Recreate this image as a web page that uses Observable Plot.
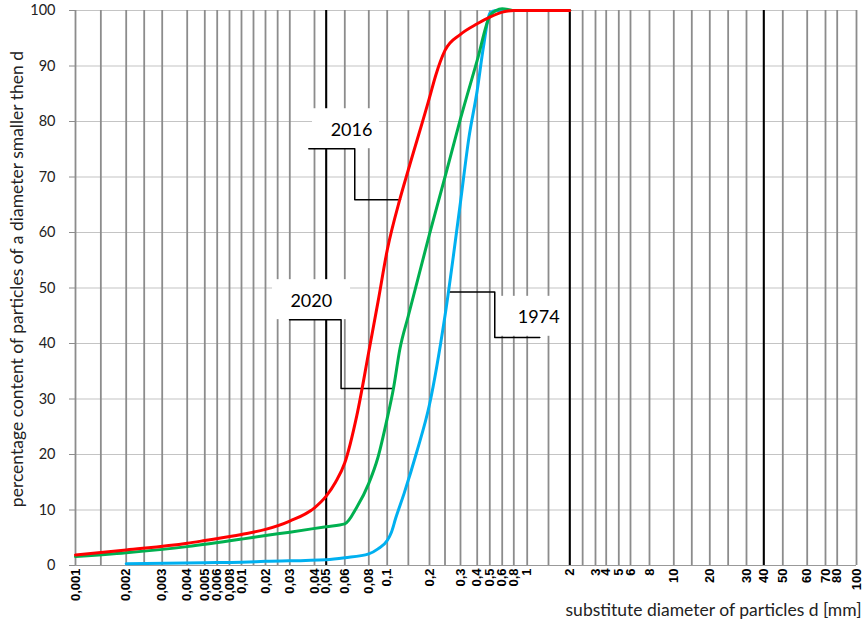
<!DOCTYPE html>
<html><head><meta charset="utf-8">
<script src="https://cdn.jsdelivr.net/npm/d3@7"></script>
<script src="https://cdn.jsdelivr.net/npm/@observablehq/plot@0.6"></script>
<style>body{margin:0;background:#fff}</style>
</head><body><div id="chart"></div>
<script>
// ---- axis ticks / labels ----
const xTicks = [0.001,0.002,0.003,0.004,0.005,0.006,0.008,0.01,0.02,0.03,0.04,0.05,0.06,0.08,0.1,0.2,0.3,0.4,0.5,0.6,0.8,1,2,3,4,5,6,8,10,20,30,40,50,60,70,80,100];
const xTickLabels = ["0,001","0,002","0,003","0,004","0,005","0,006","0,008","0,01","0,02","0,03","0,04","0,05","0,06","0,08","0,1","0,2","0,3","0,4","0,5","0,6","0,8","1","2","3","4","5","6","8","10","20","30","40","50","60","70","80","100"];
const xGridExtra = [0.0015,0.0025,0.015,0.025,0.15,0.25,1.5,2.5,15,25];
const xMajor = [0.05, 2, 40];
const yTicks = [0,10,20,30,40,50,60,70,80,90,100];
const yLabel = "percentage content of particles of a diameter smaller then d";
const xLabel = "substitute diameter of particles d [mm]";

// ---- series ----
const d2016 = [0.001,0.002,0.004,0.005,0.01,0.02,0.03,0.04,0.05,0.055,0.06,0.07,0.08,0.09,0.1,0.13,0.15,0.2,0.22,0.25,0.3,0.4,0.5,0.6,0.8,1,2];
const p2016 = [1.9,2.8,4.0,4.5,5.6,6.5,8.0,10.4,12.5,15.0,18.5,27,38.5,47.5,56.8,66,71.3,84.3,88.3,92.8,95.7,97.6,98.8,99.7,100,100,100];
const d2020 = [0.001,0.002,0.004,0.01,0.02,0.03,0.05,0.06,0.07,0.08,0.09,0.1,0.115,0.13,0.15,0.2,0.25,0.3,0.4,0.5,0.55,0.6,0.7,0.8,1,2];
const p2020 = [1.6,2.3,3.4,4.75,5.4,6.0,7.0,7.5,10.5,14.8,19.5,26.5,32,39,45,59.7,70,80.5,91,99,100,100.3,100.2,100,100,100];
const d1974 = [0.002,0.005,0.01,0.02,0.05,0.06,0.08,0.09,0.1,0.11,0.12,0.14,0.17,0.2,0.25,0.3,0.35,0.4,0.45,0.5,0.55,2];
const p1974 = [0.3,0.5,0.6,0.75,1.05,1.4,2.1,3.0,4.5,6.0,8.5,13,20.5,29,45,65.5,77,85.6,93.5,99.5,100,100];

// ---- annotations (data units) ----
const annLabels = ["2016","2020","1974"];
const annX = [0.0656, 0.0387, 1.27];
const annY = [78.4, 47.7, 44.7];
const boxX1 = [0.0392, 0.0229, 0.586];
const boxX2 = [0.0916, 0.0648, 1.9];
const boxY1 = [75.1, 44.3, 41.3];
const boxY2 = [82.3, 51.5, 48.5];
const leaderX = [[0.0377,0.0683,0.0683,0.1314],[0.0299,0.058,0.058,0.115],[0.2645,0.54,0.54,1.296]];
const leaderY = [[75.1,75.1,65.9,65.9],[44.3,44.3,31.9,31.9],[49.3,49.3,41.1,41.1]];

const rows = (ds, ps) => ds.map((d, i) => ({d, p: ps[i]}));
const ann = annLabels.map((label, i) => ({label, x: annX[i], y: annY[i], x1: boxX1[i], x2: boxX2[i], y1: boxY1[i], y2: boxY2[i]}));
const leaders = annLabels.flatMap((label, i) => leaderX[i].map((x, j) => ({label, x, y: leaderY[i][j]})));

const chart = Plot.plot({
  width: 866, height: 622,
  marginLeft: 75, marginRight: 10, marginTop: 10, marginBottom: 57,
  x: {type: "linear", domain: xTicks,
      range: [75,125.7,161.7,186.7,204.3,216.7,229,241,265,289.3,314,325.7,344.3,368.3,386.7,429,460,476.7,489.3,501.7,513.3,526.7,569.3,595,605.7,618.3,630,649,673.3,709.3,746,763.3,782.3,806.7,825,836.7,856]},
  y: {domain: [0, 100]},
  style: {fontFamily: "Lato, sans-serif", background: "white"},
  marks: [
    Plot.ruleY(yTicks, {stroke: "#c4c4c4", strokeWidth: 1.2}),
    Plot.ruleX([...xTicks, ...xGridExtra], {stroke: "#8c8c8c", strokeWidth: 1.8}),
    Plot.ruleX(xMajor, {stroke: "black", strokeWidth: 2}),
    Plot.ruleY([0], {stroke: "#999", strokeWidth: 1.2}),
    Plot.axisY({ticks: yTicks, tickSize: 6, tickPadding: 14, fontSize: 14.5, label: null, stroke: "#8c8c8c", fill: "#222"}),
    Plot.axisX({ticks: xTicks, tickFormat: d => xTickLabels[xTicks.indexOf(d)], tickRotate: -90, tickSize: 0, tickPadding: 3,
      fontSize: 13, fontWeight: "bold", fontFamily: "Liberation Sans, Arial, sans-serif", label: null, fill: "black"}),
    Plot.rect(ann, {x1: "x1", x2: "x2", y1: "y1", y2: "y2", fill: "white"}),
    Plot.text(ann, {x: "x", y: "y", text: "label", fontSize: 18, fill: "black"}),
    Plot.line(leaders, {x: "x", y: "y", z: "label", stroke: "black", strokeWidth: 1.5}),
    Plot.line(rows(d1974, p1974), {x: "d", y: "p", stroke: "#00b0f0", strokeWidth: 3, curve: "monotone-x"}),
    Plot.line(rows(d2020, p2020), {x: "d", y: "p", stroke: "#00b050", strokeWidth: 3, curve: "monotone-x"}),
    Plot.line(rows(d2016, p2016), {x: "d", y: "p", stroke: "#ff0000", strokeWidth: 3, curve: "monotone-x"}),
    Plot.text([yLabel], {frameAnchor: "left", textAnchor: "middle", lineAnchor: "middle", rotate: -90, dx: -58, dy: -9, fontSize: 17.5, fill: "#222"}),
    Plot.text([xLabel], {frameAnchor: "bottom-right", textAnchor: "end", lineAnchor: "middle", dx: 5, dy: 45, fontSize: 17.5, fill: "#222"})
  ]
});
document.getElementById("chart").appendChild(chart);
</script>
</body></html>
